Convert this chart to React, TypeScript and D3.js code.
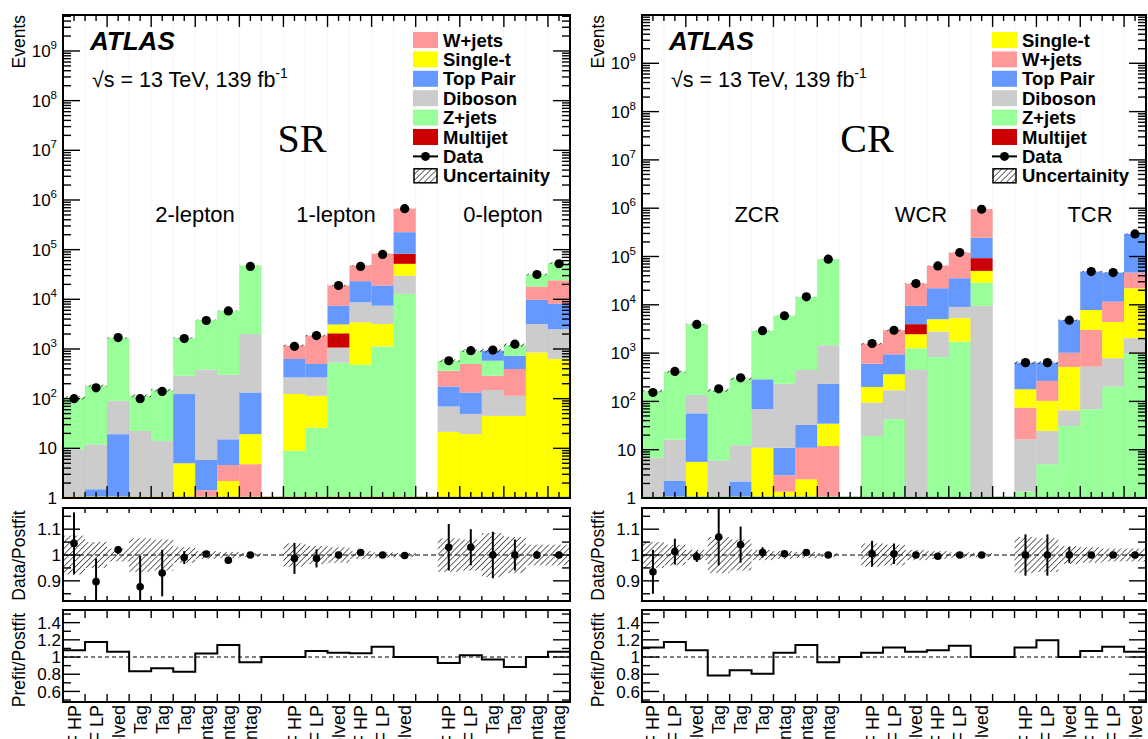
import React from "react";
import * as d3 from "d3";

// ---- bins -------------------------------------------------------------
const NB = 23;

const labelsSR = [
  "VBF HP", "VBF LP", "VBF Resolved", "HP Tag", "LP Tag", "Res Tag", "HP Untag", "LP Untag", "Res Untag", "",
  "VBF HP", "VBF LP", "VBF Resolved", "GGF HP", "GGF LP", "GGF Resolved", "",
  "VBF HP", "VBF LP", "HP Tag", "LP Tag", "HP Untag", "LP Untag",
];
const labelsCR = [
  "VBF HP", "VBF LP", "VBF Resolved", "HP Tag", "LP Tag", "Res Tag", "HP Untag", "LP Untag", "Res Untag", "",
  "VBF HP", "VBF LP", "VBF Resolved", "GGF HP", "GGF LP", "GGF Resolved", "",
  "VBF HP", "VBF LP", "VBF Resolved", "GGF HP", "GGF LP", "GGF Resolved",
];

// ---- processes --------------------------------------------------------
const PROCESSES = ["W+jets", "Single-t", "Top Pair", "Diboson", "Z+jets", "Multijet"];
const COLORS: Record<string, string> = {
  "W+jets": "#ff9999",
  "Single-t": "#ffff00",
  "Top Pair": "#6699ff",
  "Diboson": "#cccccc",
  "Z+jets": "#99ff99",
  "Multijet": "#cc0000",
};

// ---- signal regions: post-fit yields ----------------------------------
const srWjets = [0, 0, 0, 0, 0, 0, 1.43, 2.4, 4.8, 0, 540, 1360, 11600, 24800, 64000, 443000, 0, 188, 367, 141, 281, 8300, 16000];
const srSingleTop = [0, 0, 0, 0, 0, 5, 0, 2.2, 14.5, 0, 115, 88, 1050, 2970, 2050, 22000, 0, 21.5, 19.3, 45, 45, 850, 630];
const srTopPair = [0, 1.5, 19.3, 0, 0, 119, 4.4, 10.6, 114, 0, 362, 232, 4300, 14500, 11600, 142000, 0, 107, 84, 345, 338, 6580, 5600];
const srDiboson = [9.6, 10.5, 71, 22.4, 14, 166, 376, 287, 1870, 0, 144, 154, 540, 5250, 4270, 17000, 0, 48, 30, 104, 69, 2330, 1890];
const srZjets = [95, 170, 1580, 92, 135, 1380, 3470, 5600, 46000, 0, 8.9, 26, 530, 482, 1130, 12900, 0, 216, 425, 290, 470, 13600, 29500];
const srMultijet = [0, 0, 0, 0, 0, 0, 0, 0, 0, 0, 0, 0, 1000, 0, 0, 31000, 0, 0, 0, 0, 0, 0, 0];
const srData = [100, 165, 1700, 100, 140, 1620, 3750, 5850, 46000, null, 1130, 1860, 19000, 46000, 80000, 668000, null, 580, 925, 950, 1250, 31600, 52000];

const srRatio = [1.045, 0.897, 1.02, 0.877, 0.93, 0.99, 1.004, 0.98, 1.0, null, 0.987, 0.987, 1.0, 1.01, 1.0, 0.998, null, 1.03, 1.03, 1.0, 1.0, 1.0, 1.0];
const srRatioErr = [0.12, 0.09, 0.015, 0.12, 0.09, 0.025, 0.012, 0.01, 0.005, null, 0.06, 0.035, 0.012, 0.01, 0.006, 0.003, null, 0.09, 0.07, 0.09, 0.06, 0.015, 0.012];
const srBand = [0.075, 0.05, 0.025, 0.065, 0.06, 0.03, 0.015, 0.012, 0.008, null, 0.045, 0.035, 0.03, 0.015, 0.01, 0.008, null, 0.065, 0.06, 0.085, 0.07, 0.04, 0.04];
const srPrefit = [1.08, 1.175, 1.06, 0.835, 0.87, 0.83, 1.04, 1.14, 0.94, 1.0, 1.0, 1.07, 1.05, 1.045, 1.12, 1.0, 1.0, 0.93, 1.02, 0.97, 0.885, 1.0, 1.06];

// ---- control regions: post-fit yields ---------------------------------
const crWjets = [0, 0, 0, 0, 0, 0, 1.6, 8.5, 11.9, 0, 965, 2010, 18000, 42000, 85000, 709000, 0, 58, 163, 500, 2500, 7200, 24400];
const crSingleTop = [0, 0, 5.6, 0, 0, 11, 1.35, 2.44, 22.7, 0, 105, 195, 1200, 2240, 3570, 21600, 0, 104, 78, 450, 4780, 3630, 20000];
const crTopPair = [0, 2.25, 51, 0, 2.2, 218, 8, 21.5, 198, 0, 406, 581, 5530, 17000, 26500, 151000, 0, 457, 370, 3780, 41000, 34800, 247000];
const crDiboson = [6.8, 14, 79, 6, 10.2, 58, 222, 414, 1220, 0, 75, 127, 447, 1960, 3740, 9500, 0, 15, 19.5, 34.5, 456, 583, 1065];
const crZjets = [157, 397, 3820, 164, 284, 2590, 5670, 14050, 86500, 0, 19.2, 42.7, 813, 830, 1730, 19300, 0, 1.35, 5, 31, 69, 202, 975];
const crMultijet = [0, 0, 0, 0, 0, 0, 0, 0, 0, 0, 0, 0, 1510, 0, 0, 42000, 0, 0, 0, 0, 0, 0, 0];
const crData = [153, 418, 3930, 182, 308, 2910, 5930, 14650, 88000, null, 1580, 2970, 27500, 63700, 120500, 952000, null, 635, 635, 4800, 48800, 46400, 293000];

const crRatio = [0.935, 1.013, 0.993, 1.07, 1.04, 1.01, 1.005, 1.01, 1.0, null, 1.005, 1.005, 1.0, 0.995, 1.0, 1.0, null, 1.0, 1.0, 1.0, 1.0, 1.0, 1.0];
const crRatioErr = [0.085, 0.05, 0.02, 0.11, 0.07, 0.02, 0.012, 0.008, 0.004, null, 0.05, 0.04, 0.012, 0.008, 0.006, 0.002, null, 0.08, 0.08, 0.03, 0.01, 0.01, 0.004];
const crBand = [0.05, 0.04, 0.02, 0.07, 0.06, 0.02, 0.015, 0.012, 0.008, null, 0.045, 0.04, 0.02, 0.015, 0.01, 0.008, null, 0.07, 0.065, 0.035, 0.03, 0.025, 0.025];
const crPrefit = [1.11, 1.175, 1.08, 0.785, 0.845, 0.805, 1.05, 1.14, 0.94, 1.0, 1.05, 1.11, 1.06, 1.08, 1.13, 1.0, 1.0, 1.11, 1.195, 1.0, 1.07, 1.12, 1.06];

// ---- layout -----------------------------------------------------------
const W = 1148;
const H = 739;
const MAIN_TOP = 15;
const MAIN_BOT = 498;
const RAT_TOP = 508;
const RAT_BOT = 601;
const PRE_TOP = 610;
const PRE_BOT = 702;
const SANS = "'Liberation Sans', Arial, Helvetica, sans-serif";
const SERIF = "'Liberation Serif', 'Times New Roman', serif";

type PanelCfg = {
  id: string;
  x0: number;
  x1: number;
  ymax: number;
  yields: Record<string, number[]>;
  data: (number | null)[];
  ratio: (number | null)[];
  ratioErr: (number | null)[];
  band: (number | null)[];
  prefit: number[];
  labels: string[];
  legend: string[];
  title: string;
  titleX: number;
  regions: { text: string; x: number }[];
  floorColor: string;
};

const panels: PanelCfg[] = [
  {
    id: "sr",
    x0: 63,
    x1: 570,
    ymax: 5.3e9,
    yields: {
      "W+jets": srWjets, "Single-t": srSingleTop, "Top Pair": srTopPair,
      "Diboson": srDiboson, "Z+jets": srZjets, "Multijet": srMultijet,
    },
    data: srData,
    ratio: srRatio,
    ratioErr: srRatioErr,
    band: srBand,
    prefit: srPrefit,
    labels: labelsSR,
    legend: ["W+jets", "Single-t", "Top Pair", "Diboson", "Z+jets", "Multijet"],
    title: "SR",
    titleX: 302,
    regions: [
      { text: "2-lepton", x: 195 },
      { text: "1-lepton", x: 336 },
      { text: "0-lepton", x: 503 },
    ],
    floorColor: "#d8d060",
  },
  {
    id: "cr",
    x0: 642,
    x1: 1146,
    ymax: 1e10,
    yields: {
      "W+jets": crWjets, "Single-t": crSingleTop, "Top Pair": crTopPair,
      "Diboson": crDiboson, "Z+jets": crZjets, "Multijet": crMultijet,
    },
    data: crData,
    ratio: crRatio,
    ratioErr: crRatioErr,
    band: crBand,
    prefit: crPrefit,
    labels: labelsCR,
    legend: ["Single-t", "W+jets", "Top Pair", "Diboson", "Z+jets", "Multijet"],
    title: "CR",
    titleX: 867,
    regions: [
      { text: "ZCR", x: 757 },
      { text: "WCR", x: 921 },
      { text: "TCR", x: 1090 },
    ],
    floorColor: "#98dc98",
  },
];

function Panel({ cfg }: { cfg: PanelCfg }) {
  const { x0, x1 } = cfg;
  const x = d3.scaleLinear().domain([0, NB]).range([x0, x1]);
  const y = d3.scaleLog().domain([1, cfg.ymax]).range([MAIN_BOT, MAIN_TOP]);
  const yr = d3.scaleLinear().domain([0.822, 1.182]).range([RAT_BOT, RAT_TOP]);
  const yp = d3.scaleLinear().domain([0.477, 1.547]).range([PRE_BOT, PRE_TOP]);
  const bins = d3.range(NB);

  // stacked histogram, smallest contribution at the bottom of each bin
  const bars: JSX.Element[] = [];
  const hatches: JSX.Element[] = [];
  bins.forEach((i) => {
    const comps = PROCESSES.map((p) => ({ p, v: cfg.yields[p][i] }))
      .filter((c) => c.v > 0)
      .sort((a, b) => a.v - b.v);
    let cum = 0;
    comps.forEach((c) => {
      const lo = Math.max(cum, 1);
      cum += c.v;
      if (cum <= 1) return;
      bars.push(
        <rect
          key={`b${i}-${c.p}`}
          x={x(i)}
          width={x(i + 1) - x(i)}
          y={y(cum)}
          height={y(lo) - y(cum)}
          fill={COLORS[c.p]}
        />
      );
    });
    const b = cfg.band[i];
    if (cum > 0 && b != null) {
      hatches.push(
        <rect
          key={`h${i}`}
          x={x(i)}
          width={x(i + 1) - x(i)}
          y={y(cum * (1 + b))}
          height={y(cum * (1 - b)) - y(cum * (1 + b))}
          fill={`url(#hatch)`}
        />
      );
    }
  });

  // faint bin separators
  const seps = bins.slice(1).map((i) => (
    <line key={`s${i}`} x1={x(i)} x2={x(i)} y1={MAIN_TOP} y2={MAIN_BOT} stroke="rgba(0,0,0,0.06)" strokeWidth={0.8} />
  ));

  // axis ticks on the main pad
  const ticks: JSX.Element[] = [];
  for (let d = 0; d <= 10; d++) {
    for (let k = 1; k <= 9; k++) {
      const v = k * Math.pow(10, d);
      if (v < 1 || v > cfg.ymax) continue;
      const len = k === 1 ? 17 : 8;
      const yy = y(v);
      ticks.push(<line key={`yl${d}-${k}`} x1={x0} x2={x0 + len} y1={yy} y2={yy} />);
      ticks.push(<line key={`yr${d}-${k}`} x1={x1 - len} x2={x1} y1={yy} y2={yy} />);
    }
  }
  for (let t = 0; t <= NB; t += 0.5) {
    const major = t % 2 === 0;
    const len = major ? 12 : 6;
    const xx = x(t);
    ticks.push(<line key={`xb${t}`} x1={xx} x2={xx} y1={MAIN_BOT} y2={MAIN_BOT - len} />);
    ticks.push(<line key={`xt${t}`} x1={xx} x2={xx} y1={MAIN_TOP} y2={MAIN_TOP + len} />);
  }

  // y tick labels (main)
  const yLabels: JSX.Element[] = [];
  for (let d = 0; d <= 9; d++) {
    const yy = y(Math.pow(10, d));
    yLabels.push(
      <text key={`yt${d}`} x={x0 - 6} y={yy} dy="0.36em" textAnchor="end" fontSize={17}>
        {d === 0 ? "1" : "10"}
        {d >= 2 ? (
          <tspan dy={-8} fontSize={11.5}>
            {d}
          </tspan>
        ) : null}
      </text>
    );
  }

  // ratio pads: ticks
  const ratioTicks: JSX.Element[] = [];
  [0.85, 0.9, 0.95, 1.0, 1.05, 1.1, 1.15].forEach((v, j) => {
    const major = Math.abs(v * 10 - Math.round(v * 10)) < 1e-6;
    const len = major ? 17 : 8;
    ratioTicks.push(<line key={`rl${j}`} x1={x0} x2={x0 + len} y1={yr(v)} y2={yr(v)} />);
    ratioTicks.push(<line key={`rr${j}`} x1={x1 - len} x2={x1} y1={yr(v)} y2={yr(v)} />);
  });
  [0.5, 0.6, 0.7, 0.8, 0.9, 1.0, 1.1, 1.2, 1.3, 1.4, 1.5].forEach((v, j) => {
    const major = Math.round(v * 10) % 2 === 0;
    const len = major ? 17 : 8;
    ratioTicks.push(<line key={`pl${j}`} x1={x0} x2={x0 + len} y1={yp(v)} y2={yp(v)} />);
    ratioTicks.push(<line key={`pr${j}`} x1={x1 - len} x2={x1} y1={yp(v)} y2={yp(v)} />);
  });
  for (let t = 1; t < NB; t++) {
    const xx = x(t);
    ratioTicks.push(<line key={`rxt${t}`} x1={xx} x2={xx} y1={RAT_TOP} y2={RAT_TOP + 5} />);
    ratioTicks.push(<line key={`rxb${t}`} x1={xx} x2={xx} y1={RAT_BOT} y2={RAT_BOT - 5} />);
    ratioTicks.push(<line key={`pxt${t}`} x1={xx} x2={xx} y1={PRE_TOP} y2={PRE_TOP + 8} />);
    ratioTicks.push(<line key={`pxb${t}`} x1={xx} x2={xx} y1={PRE_BOT} y2={PRE_BOT - 8} />);
  }

  const ratioBand = bins.map((i) => {
    const b = cfg.band[i];
    if (b == null) return null;
    return (
      <rect
        key={`rb${i}`}
        x={x(i)}
        width={x(i + 1) - x(i)}
        y={yr(1 + b)}
        height={yr(1 - b) - yr(1 + b)}
        fill="url(#hatch)"
      />
    );
  });

  const ratioPts = bins.map((i) => {
    const r = cfg.ratio[i];
    const e = cfg.ratioErr[i];
    if (r == null || e == null) return null;
    const cx = x(i + 0.5);
    return (
      <g key={`rp${i}`}>
        <line x1={cx} x2={cx} y1={yr(r + e)} y2={yr(r - e)} stroke="#000" strokeWidth={2} />
        <circle cx={cx} cy={yr(r)} r={3.8} fill="#000" />
      </g>
    );
  });

  // prefit / postfit step line
  const stepPts: [number, number][] = bins.map((i) => [x(i), yp(cfg.prefit[i])]);
  stepPts.push([x(NB), yp(cfg.prefit[NB - 1])]);
  const stepPath = d3.line().curve(d3.curveStepAfter)(stepPts) || "";

  // legend
  const LX = x0 + 350;
  const TX = x0 + 380;
  const rowY = (k: number) => 40 + k * 19.4;
  const legendRows = cfg.legend.map((p, k) => (
    <g key={`lg${p}`}>
      <rect x={LX} y={rowY(k) - 8} width={25} height={16} fill={COLORS[p]} />
      <text x={TX} y={rowY(k) + 6.5} fontSize={18.5} fontWeight="bold">
        {p}
      </text>
    </g>
  ));
  const kData = cfg.legend.length;

  return (
    <g fontFamily={SANS}>
      <defs>
        <clipPath id={`clip-main-${cfg.id}`}>
          <rect x={x0} y={MAIN_TOP} width={x1 - x0} height={MAIN_BOT - MAIN_TOP} />
        </clipPath>
        <clipPath id={`clip-rat-${cfg.id}`}>
          <rect x={x0} y={RAT_TOP} width={x1 - x0} height={RAT_BOT - RAT_TOP} />
        </clipPath>
      </defs>

      {/* main pad */}
      <g clipPath={`url(#clip-main-${cfg.id})`}>
        {bars}
        {seps}
        {hatches}
        {bins.map((i) => {
          const v = cfg.data[i];
          if (v == null) return null;
          return <circle key={`d${i}`} cx={x(i + 0.5)} cy={y(v)} r={4.6} fill="#000" />;
        })}
      </g>
      <line x1={x0} x2={x1} y1={MAIN_BOT - 1} y2={MAIN_BOT - 1} stroke={cfg.floorColor} strokeWidth={1.5} />
      <g stroke="#000" strokeWidth={1.4}>{ticks}</g>
      <rect x={x0} y={MAIN_TOP} width={x1 - x0} height={MAIN_BOT - MAIN_TOP} fill="none" stroke="#000" strokeWidth={2} />
      {yLabels}

      <text x={x0 + 27} y={50} fontSize={26} fontWeight="bold" fontStyle="italic">
        ATLAS
      </text>
      <text x={x0 + 29} y={87} fontSize={21.5}>
        √s = 13 TeV, 139 fb
        <tspan dy={-9} fontSize={14}>
          -1
        </tspan>
      </text>
      <text x={cfg.titleX} y={152} fontSize={40} fontFamily={SERIF} textAnchor="middle">
        {cfg.title}
      </text>
      {cfg.regions.map((r) => (
        <text key={r.text} x={r.x} y={222} fontSize={22} textAnchor="middle">
          {r.text}
        </text>
      ))}

      {legendRows}
      <g>
        <line x1={LX} x2={LX + 25} y1={rowY(kData)} y2={rowY(kData)} stroke="#000" strokeWidth={2} />
        <circle cx={LX + 12.5} cy={rowY(kData)} r={4.5} fill="#000" />
        <text x={TX} y={rowY(kData) + 6.5} fontSize={18.5} fontWeight="bold">
          Data
        </text>
      </g>
      <g>
        <rect x={LX + 1} y={rowY(kData + 1) - 7} width={23} height={14} fill="url(#hatch)" stroke="#000" strokeWidth={1.5} />
        <text x={TX} y={rowY(kData + 1) + 6.5} fontSize={18.5} fontWeight="bold">
          Uncertainity
        </text>
      </g>

      {/* ratio pad */}
      <g clipPath={`url(#clip-rat-${cfg.id})`}>
        {ratioBand}
        <line x1={x0} x2={x1} y1={yr(1)} y2={yr(1)} stroke="#000" strokeWidth={1} strokeDasharray="5 3" />
        {ratioPts}
      </g>

      {/* prefit / postfit pad */}
      <line x1={x0} x2={x1} y1={yp(1)} y2={yp(1)} stroke="#555" strokeWidth={1.5} strokeDasharray="4 3" />
      <path d={stepPath} fill="none" stroke="#000" strokeWidth={2} />

      <g stroke="#000" strokeWidth={1.4}>{ratioTicks}</g>
      <rect x={x0} y={RAT_TOP} width={x1 - x0} height={RAT_BOT - RAT_TOP} fill="none" stroke="#000" strokeWidth={2} />
      <rect x={x0} y={PRE_TOP} width={x1 - x0} height={PRE_BOT - PRE_TOP} fill="none" stroke="#000" strokeWidth={2} />

      {[0.9, 1.0, 1.1].map((v) => (
        <text key={`rt${v}`} x={x0 - 2} y={yr(v)} dy="0.36em" textAnchor="end" fontSize={17}>
          {v === 1 ? "1" : v.toFixed(1)}
        </text>
      ))}
      {[0.6, 0.8, 1.0, 1.2, 1.4].map((v) => (
        <text key={`pt${v}`} x={x0 - 2} y={yp(v)} dy="0.36em" textAnchor="end" fontSize={17}>
          {v === 1 ? "1" : v.toFixed(1)}
        </text>
      ))}

      {/* axis titles */}
      <text transform={`translate(${x0 - 38},${MAIN_TOP}) rotate(-90)`} textAnchor="end" fontSize={17.5}>
        Events
      </text>
      <text transform={`translate(${x0 - 38},${(RAT_TOP + RAT_BOT) / 2 + 1}) rotate(-90)`} textAnchor="middle" fontSize={17.5}>
        Data/Postfit
      </text>
      <text transform={`translate(${x0 - 38},${PRE_TOP + 50}) rotate(-90)`} textAnchor="middle" fontSize={17.5}>
        Prefit/Postfit
      </text>

      {/* bin labels, running down past the lower edge */}
      {cfg.labels.map((lab, i) =>
        lab ? (
          <text
            key={`xl${i}`}
            transform={`translate(${x(i + 0.5) + 6.5},705) rotate(-90)`}
            textAnchor="end"
            fontSize={18}
          >
            {lab}
          </text>
        ) : null
      )}
    </g>
  );
}

export default function App() {
  return (
    <svg
      width={W}
      height={H}
      viewBox={`0 0 ${W} ${H}`}
      style={{ position: "absolute", left: 0, top: 0, background: "#fff" }}
    >
      <defs>
        <pattern id="hatch" patternUnits="userSpaceOnUse" width={4.2} height={4.2} patternTransform="rotate(45)">
          <line x1={0} y1={0} x2={0} y2={4.2} stroke="#000" strokeWidth={1.2} />
        </pattern>
      </defs>
      <rect width={W} height={H} fill="#fff" />
      {panels.map((p) => (
        <Panel key={p.id} cfg={p} />
      ))}
    </svg>
  );
}
